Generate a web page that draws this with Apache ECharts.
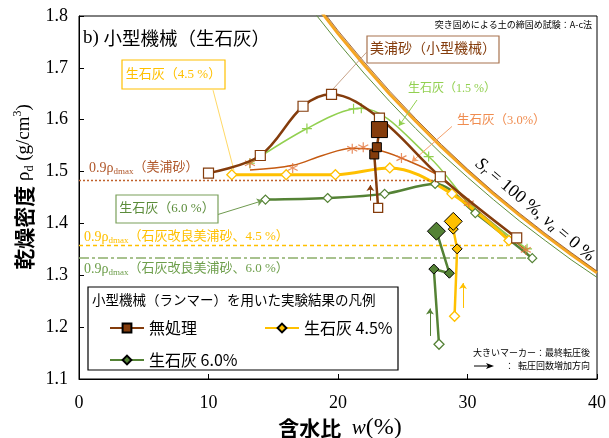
<!DOCTYPE html>
<html><head><meta charset="utf-8">
<script src="https://cdn.jsdelivr.net/npm/echarts@6/dist/echarts.min.js"></script>
<style>html,body{margin:0;padding:0;background:#fff}#c{width:609px;height:438px}</style>
</head><body><div id="c"></div>
<script>
// Compaction curves: water content w (%) vs dry density (g/cm3)
const wUntreated = [10.0, 14.0, 17.3, 19.5, 23.2, 27.9, 33.8];
const rhoUntreated = [1.497, 1.531, 1.626, 1.649, 1.603, 1.490, 1.372];

const wLime15 = [13.2, 17.6, 21.2, 21.8, 27.0, 30.4, 34.6];
const rhoLime15 = [1.516, 1.583, 1.621, 1.622, 1.529, 1.432, 1.351];

// quicklime 3.0 %: measured points and the fitted curve through them
const wLime30 = [13.2, 16.5, 21.1, 21.95, 24.9, 30.1, 34.5];
const rhoLime30 = [1.516, 1.507, 1.544, 1.547, 1.526, 1.439, 1.349];
const wLime30Fit = [13.2, 16.5, 18.8, 21.1, 23.0, 24.9, 27.9, 30.1, 34.5];
const rhoLime30Fit = [1.503, 1.512, 1.531, 1.545, 1.542, 1.526, 1.490, 1.439, 1.349];

const wLime45 = [11.8, 16.0, 19.8, 24.0, 28.8, 33.2];
const rhoLime45 = [1.494, 1.494, 1.494, 1.507, 1.457, 1.367];

const wLime60 = [14.4, 19.2, 23.6, 27.5, 30.6, 35.0];
const rhoLime60 = [1.446, 1.449, 1.457, 1.476, 1.420, 1.333];

// small-machine (rammer) runs; the last value is after the final pass
const wRamUntreated = [23.1, 22.8, 23.0, 23.2];
const rhoRamUntreated = [1.430, 1.533, 1.547, 1.581];
const wRam45 = [29.0, 29.2, 28.9, 28.9];
const rhoRam45 = [1.221, 1.351, 1.389, 1.404];
const wRam60 = [27.8, 27.4, 28.6, 27.6];
const rhoRam60 = [1.167, 1.312, 1.304, 1.385];

// zero-air-voids lines (Sr = 100 %)
const wSat = [18, 20, 22, 24, 26, 28, 30, 32, 34, 36, 38, 40];
const rhoSatGreen = [1.812, 1.749, 1.690, 1.635, 1.583, 1.534, 1.489, 1.446, 1.405, 1.367, 1.330, 1.296];
const rhoSatOrange = [1.831, 1.766, 1.706, 1.649, 1.597, 1.547, 1.501, 1.457, 1.416, 1.377, 1.340, 1.305];
const rhoSatBrown = [1.837, 1.772, 1.712, 1.655, 1.602, 1.552, 1.505, 1.461, 1.420, 1.381, 1.344, 1.308];

// 0.9 rho_dmax reference levels
const refLevels = [1.484, 1.357, 1.333];
const refEnds = [27.5, 33.1, 34.8];

const xTicks = [0, 10, 20, 30, 40];
const yTicks = [1.1, 1.2, 1.3, 1.4, 1.5, 1.6, 1.7, 1.8];

const BROWN = '#843c0c', ORANGE = '#c55a11', ORANGE_MK = '#e2733a', LIME = '#92d050',
      YELLOW = '#ffc000', GREEN = '#548235';
const SERIF = '"Liberation Serif", "Noto Sans CJK JP"';
const SANS = '"Noto Sans CJK JP", "Noto Sans", sans-serif';

const pts = (ws, rs) => ws.map((w, i) => [w, rs[i]]);
const ASTER = 'path://M0,-5L0,5M-4.33,-2.5L4.33,2.5M-4.33,2.5L4.33,-2.5';
const PLUS = 'path://M-5,0L5,0M0,-4L0,4';

function ramData(ws, rs, open, bigSize) {
  return ws.map((w, i) => {
    const d = { value: [w, rs[i]] };
    if (i === 0) d.itemStyle = open;
    if (i === ws.length - 1) d.symbolSize = bigSize;
    return d;
  });
}

const seg = (a, b, style, arrow) => [
  { coord: a, symbol: 'none', lineStyle: style },
  { coord: b, symbol: arrow ? 'arrow' : 'none', symbolSize: arrow ? 6 : 0 }
];

function rhoLabel(x, y, color, tail) {
  return {
    type: 'text', x: x, y: y, z: 20,
    style: {
      text: '{n|0.9ρ}{s|dmax}{j|' + tail + '}',
      align: 'left', verticalAlign: 'middle', textAlign: 'left', textVerticalAlign: 'middle',
      fill: color,
      rich: {
        n: { fontFamily: SERIF, fontSize: 14, fill: color, lineHeight: 16, verticalAlign: 'middle' },
        s: { fontFamily: SERIF, fontSize: 9, fill: color, lineHeight: 16, verticalAlign: 'bottom' },
        j: { fontFamily: SERIF, fontSize: 13, fill: color, lineHeight: 16, verticalAlign: 'middle' }
      }
    }
  };
}

function boxText(x, y, w, h, text, color, border, size) {
  return [
    { type: 'rect', z: 15, shape: { x: x, y: y, width: w, height: h },
      style: { fill: '#fff', stroke: border, lineWidth: 1.2 } },
    { type: 'text', z: 16, x: x + w / 2, y: y + h / 2,
      style: { text: text, fill: color, font: size + 'px ' + SERIF,
        align: 'center', verticalAlign: 'middle', textAlign: 'center', textVerticalAlign: 'middle' } }
  ];
}

const chart = echarts.init(document.getElementById('c'), null, { renderer: 'canvas' });

const option = {
  animation: false,
  backgroundColor: '#fff',
  grid: { left: 79, right: 12, top: 16, bottom: 59, show: true, borderColor: '#000', borderWidth: 1 },
  xAxis: {
    type: 'value', min: xTicks[0], max: xTicks[xTicks.length - 1], interval: 10,
    axisLine: { show: true, lineStyle: { color: '#000', width: 1 } },
    axisTick: { show: true, inside: true, length: 5, lineStyle: { color: '#000' } },
    axisLabel: { color: '#000', fontFamily: SERIF, fontSize: 18, margin: 15 },
    splitLine: { show: false }
  },
  yAxis: {
    type: 'value', min: yTicks[0], max: yTicks[yTicks.length - 1], interval: 0.1,
    axisLine: { show: true, lineStyle: { color: '#000', width: 1 } },
    axisTick: { show: true, inside: true, length: 5, lineStyle: { color: '#000' } },
    axisLabel: { color: '#000', fontFamily: SERIF, fontSize: 18, margin: 11,
      formatter: v => v.toFixed(1) },
    splitLine: { show: false }
  },
  legend: [
    { data: ['無処理'], left: 104, top: 313, itemWidth: 34, itemHeight: 11, itemGap: 4, z: 30,
      textStyle: { fontFamily: SANS, fontSize: 16, color: '#000', lineHeight: 20 }, selectedMode: false },
    { data: ['生石灰 4.5%'], left: 259, top: 313, itemWidth: 34, itemHeight: 11, itemGap: 4, z: 30,
      textStyle: { fontFamily: SANS, fontSize: 16, color: '#000', lineHeight: 20 }, selectedMode: false },
    { data: ['生石灰 6.0%'], left: 104, top: 345, itemWidth: 34, itemHeight: 11, itemGap: 4, z: 30,
      textStyle: { fontFamily: SANS, fontSize: 16, color: '#000', lineHeight: 20 }, selectedMode: false }
  ],
  series: [
    // zero-air-voids lines
    { name: 'satGreen', type: 'line', data: pts(wSat, rhoSatGreen), symbol: 'none', z: 1,
      lineStyle: { color: '#5e8f3c', width: 1 }, silent: true },
    { name: 'satOrange', type: 'line', data: pts(wSat, rhoSatOrange), symbol: 'none', z: 1,
      lineStyle: { color: '#f5a623', width: 3 }, silent: true },
    { name: 'satBrown', type: 'line', data: pts(wSat, rhoSatBrown), symbol: 'none', z: 1,
      lineStyle: { color: '#8a4a1c', width: 0.8 }, silent: true },

    // reference lines, pointers and pass-direction arrows
    { name: 'notes', type: 'line', data: [], silent: true, z: 2,
      markLine: {
        silent: true, animation: false, label: { show: false }, emphasis: { disabled: true },
        symbol: ['none', 'none'],
        data: [
          seg([0, refLevels[0]], [refEnds[0], refLevels[0]], { color: '#c0612b', width: 1.3, type: [2, 2] }),
          seg([0, refLevels[1]], [refEnds[1], refLevels[1]], { color: YELLOW, width: 1.3, type: [4, 3] }),
          seg([0, refLevels[2]], [refEnds[2], refLevels[2]], { color: '#8cae6a', width: 1.5, type: [10, 3, 3, 3] }),
          seg([22.2, 1.730], [19.5, 1.656], { color: '#c9a48a', width: 1, type: 'solid' }),
          seg([10.35, 1.657], [11.97, 1.502], { color: '#ffd966', width: 1, type: 'solid' }),
          seg([26.1, 1.638], [24.7, 1.588], { color: LIME, width: 1, type: 'solid' }, true),
          seg([28.8, 1.587], [25.7, 1.519], { color: '#f4a06a', width: 1, type: 'solid' }, true),
          seg([10.7, 1.417], [14.2, 1.444], { color: '#6f9a4f', width: 1, type: 'solid' }, true),
          seg([22.5, 1.444], [22.5, 1.474], { color: BROWN, width: 1, type: 'solid' }, true),
          seg([29.65, 1.237], [29.65, 1.285], { color: YELLOW, width: 1, type: 'solid' }, true),
          seg([27.1, 1.183], [27.1, 1.236], { color: GREEN, width: 1, type: 'solid' }, true)
        ]
      }
    },

    // compaction curves
    { name: 'curveLime30', type: 'line', data: pts(wLime30Fit, rhoLime30Fit), smooth: 0.35, symbol: 'none', z: 3,
      lineStyle: { color: ORANGE, width: 1.5 } },
    { name: 'markLime30', type: 'scatter', data: pts(wLime30, rhoLime30), symbol: ASTER, symbolSize: 10, z: 4,
      itemStyle: { color: ORANGE_MK, borderColor: ORANGE_MK, borderWidth: 1.2 } },
    { name: 'curveLime15', type: 'line', data: pts(wLime15, rhoLime15), smooth: 0.35, symbol: PLUS, symbolSize: 10, z: 3,
      showAllSymbol: true,
      lineStyle: { color: LIME, width: 1.5 }, itemStyle: { color: LIME, borderColor: LIME, borderWidth: 1.2 } },
    { name: 'curveLime60', type: 'line', data: pts(wLime60, rhoLime60), smooth: 0.35, symbol: 'diamond', symbolSize: 9, z: 4,
      lineStyle: { color: GREEN, width: 2.5 }, itemStyle: { color: '#fff', borderColor: GREEN, borderWidth: 1.2 } },
    { name: 'curveLime45', type: 'line', data: pts(wLime45, rhoLime45), smooth: 0.35, symbol: 'diamond', symbolSize: 10, z: 4,
      lineStyle: { color: YELLOW, width: 3 }, itemStyle: { color: '#fff', borderColor: YELLOW, borderWidth: 1.3 } },
    { name: 'curveUntreated', type: 'line', data: pts(wUntreated, rhoUntreated), smooth: 0.35, symbol: 'rect', symbolSize: 10, z: 5,
      lineStyle: { color: BROWN, width: 2.5 }, itemStyle: { color: '#fff', borderColor: BROWN, borderWidth: 1.2 } },

    // rammer runs
    { name: '無処理', type: 'line', data: ramData(wRamUntreated, rhoRamUntreated,
        { color: '#fff', borderColor: BROWN, borderWidth: 1.3 }, 16),
      symbol: 'rect', symbolSize: 9, z: 6,
      lineStyle: { color: BROWN, width: 2.5 }, itemStyle: { color: BROWN, borderColor: '#000', borderWidth: 1 } },
    { name: '生石灰 4.5%', type: 'line', data: ramData(wRam45, rhoRam45,
        { color: '#fff', borderColor: YELLOW, borderWidth: 1.3 }, 18),
      symbol: 'diamond', symbolSize: 10, z: 6,
      lineStyle: { color: YELLOW, width: 2.5 }, itemStyle: { color: YELLOW, borderColor: '#000', borderWidth: 1 } },
    { name: '生石灰 6.0%', type: 'line', data: ramData(wRam60, rhoRam60,
        { color: '#fff', borderColor: GREEN, borderWidth: 1.3 }, 18),
      symbol: 'diamond', symbolSize: 10, z: 6,
      lineStyle: { color: GREEN, width: 2.5 }, itemStyle: { color: GREEN, borderColor: '#000', borderWidth: 1 } }
  ],
  graphic: [
    // panel title and test method
    { type: 'text', x: 83, y: 38, z: 20,
      style: { text: '{a|b) }{b|小型機械（生石灰）}', align: 'left', verticalAlign: 'middle',
        textAlign: 'left', textVerticalAlign: 'middle',
        rich: { a: { fontFamily: SERIF, fontSize: 19, fill: '#000' },
                b: { fontFamily: SANS, fontSize: 18.5, fill: '#000' } } } },
    { type: 'text', x: 592, y: 25, z: 20,
      style: { text: '突き固めによる土の締固め試験：A-c法', font: '9px ' + SANS, fill: '#000',
        align: 'right', verticalAlign: 'middle', textAlign: 'right', textVerticalAlign: 'middle' } },

    ...boxText(367, 36, 132, 27, '美浦砂（小型機械）', BROWN, '#a8734f', 14),
    ...boxText(122, 60, 103, 29, '生石灰（4.5 %）', YELLOW, YELLOW, 13),
    ...boxText(116, 195, 102, 28, '生石灰（6.0 %）', '#5b8c3a', '#7aa05a', 13),
    { type: 'text', x: 408, y: 89, z: 20,
      style: { text: '生石灰（1.5 %）', font: '12px ' + SERIF, fill: LIME,
        align: 'left', verticalAlign: 'middle', textAlign: 'left', textVerticalAlign: 'middle' } },
    { type: 'text', x: 457, y: 121, z: 20,
      style: { text: '生石灰（3.0%）', font: '12.5px ' + SERIF, fill: '#f08c4f',
        align: 'left', verticalAlign: 'middle', textAlign: 'left', textVerticalAlign: 'middle' } },

    rhoLabel(89, 168, '#b0572a', '（美浦砂）'),
    rhoLabel(84, 237, YELLOW, '（石灰改良美浦砂、4.5 %）'),
    rhoLabel(84, 269, '#6e9f4c', '（石灰改良美浦砂、6.0 %）'),

    // saturation line label
    { type: 'text', x: 535, y: 210, rotation: -0.70, z: 20,
      style: { text: '{i|S}{s|r}{n| = 100 %, }{i|v}{s|a}{n| = 0 %}',
        align: 'center', verticalAlign: 'middle', textAlign: 'center', textVerticalAlign: 'middle',
        rich: {
          i: { fontFamily: SERIF, fontStyle: 'italic', fontSize: 18, fill: '#000', lineHeight: 20, verticalAlign: 'middle' },
          n: { fontFamily: SERIF, fontSize: 18, fill: '#000', lineHeight: 20, verticalAlign: 'middle' },
          s: { fontFamily: SERIF, fontStyle: 'italic', fontSize: 12, fill: '#000', lineHeight: 20, verticalAlign: 'bottom' }
        } } },

    // legend frame
    { type: 'rect', z: 10, shape: { x: 88, y: 287, width: 310, height: 83 },
      style: { fill: '#fff', stroke: '#000', lineWidth: 1.2 } },
    { type: 'text', x: 92, y: 300, z: 20,
      style: { text: '小型機械（ランマー）を用いた実験結果の凡例', font: '13.5px ' + SANS, fill: '#000',
        align: 'left', verticalAlign: 'middle', textAlign: 'left', textVerticalAlign: 'middle' } },

    // marker notes
    { type: 'text', x: 590, y: 353, z: 20,
      style: { text: '大きいマーカー：最終転圧後', font: '9px ' + SANS, fill: '#000',
        align: 'right', verticalAlign: 'middle', textAlign: 'right', textVerticalAlign: 'middle' } },
    { type: 'text', x: 590, y: 366, z: 20,
      style: { text: '：  転圧回数増加方向', font: '9px ' + SANS, fill: '#000',
        align: 'right', verticalAlign: 'middle', textAlign: 'right', textVerticalAlign: 'middle' } },
    { type: 'line', z: 20, shape: { x1: 474, y1: 366, x2: 488, y2: 366 }, style: { stroke: '#000', lineWidth: 1 } },
    { type: 'polygon', z: 20, shape: { points: [[486, 363], [494, 366], [486, 369], [488, 366]] }, style: { fill: '#000' } },

    // axis names
    { type: 'text', x: 24, y: 187, rotation: Math.PI / 2, z: 20,
      style: { text: '{b|乾燥密度}{s| ρ}{sub|d}{s| (g/cm}{sup|3}{s|)}',
        align: 'center', verticalAlign: 'middle', textAlign: 'center', textVerticalAlign: 'middle',
        rich: {
          b: { fontFamily: SANS, fontWeight: 'bold', fontSize: 21, fill: '#000', lineHeight: 24, verticalAlign: 'middle' },
          s: { fontFamily: SERIF, fontSize: 19, fill: '#000', lineHeight: 24, verticalAlign: 'middle' },
          sub: { fontFamily: SERIF, fontSize: 12, fill: '#000', lineHeight: 24, verticalAlign: 'bottom' },
          sup: { fontFamily: SERIF, fontSize: 12, fill: '#000', lineHeight: 24, verticalAlign: 'top' }
        } } },
    { type: 'text', x: 340, y: 428, z: 20,
      style: { text: '{b|含水比}{s|  }{i|w}{p|(%)}',
        align: 'center', verticalAlign: 'middle', textAlign: 'center', textVerticalAlign: 'middle',
        rich: {
          b: { fontFamily: SANS, fontWeight: 'bold', fontSize: 21, fill: '#000' },
          i: { fontFamily: SERIF, fontStyle: 'italic', fontSize: 21, fill: '#000' },
          s: { fontFamily: SERIF, fontSize: 21, fill: '#000' },
          p: { fontFamily: SERIF, fontSize: 24, fill: '#000' }
        } } }
  ]
};

chart.setOption(option);
</script>
</body></html>
